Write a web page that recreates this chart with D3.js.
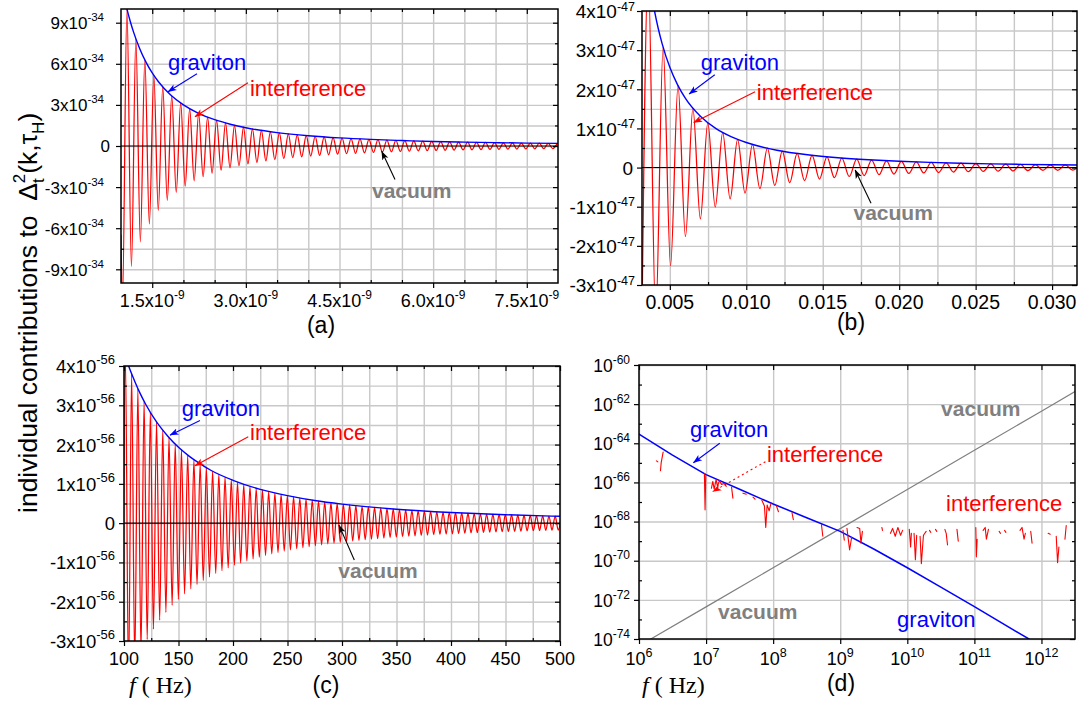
<!DOCTYPE html>
<html><head><meta charset="utf-8">
<script src="https://cdn.jsdelivr.net/npm/d3@7/dist/d3.min.js"></script>
<style>
html,body{margin:0;padding:0;background:#fff;}
svg{display:block;}
text{font-family:"Liberation Sans",Arial,Helvetica,sans-serif;}
</style></head><body>
<svg id="fig" width="1081" height="705" xmlns="http://www.w3.org/2000/svg"></svg>
<script>
// ================= DATA =================
// (a)  x in units of 1e-9, y in units of 1e-34
const aXMajor=[1.5,3.0,4.5,6.0,7.5];
const aXMinor=[2.0,2.5,3.5,4.0,5.0,5.5,6.5,7.0];
const aYMajor=[-9,-6,-3,0,3,6,9];
const aYMinor=[-7.5,-4.5,-1.5,1.5,4.5,7.5];
const aGravX=[1.05,1.1,1.15,1.2,1.3,1.4,1.5,1.6,1.8,2.0,2.25,2.5,2.75,3.0,3.5,4.0,4.5,5.0,5.5,6.0,6.5,7.0,7.5,8.0];
const aGravY=[10.88,9.92,9.07,8.33,7.10,6.12,5.33,4.69,3.70,3.00,2.37,1.92,1.59,1.33,0.98,0.75,0.59,0.48,0.40,0.33,0.28,0.245,0.213,0.188];
const aIntX=[1.0,
1.023,1.095,1.167,1.238,1.310,1.382,1.454,1.526,1.597,1.669,
1.741,1.813,1.885,1.956,2.028,2.100,2.172,2.244,2.315,2.387,
2.459,2.531,2.603,2.674,2.746,2.818,2.890,2.962,3.033,3.105,
3.177,3.249,3.321,3.392,3.464,3.536,3.608,3.680,3.751,3.823,
3.895,3.967,4.039,4.110,4.182,4.254,4.326,4.398,4.469,4.541,
4.613,4.685,4.757,4.828,4.900,4.972,5.044,5.116,5.187,5.259,
5.331,5.403,5.475,5.546,5.618,5.690,5.762,5.834,5.905,5.977,
6.049,6.121,6.193,6.264,6.336,6.408,6.480,6.552,6.623,6.695,
6.767,6.839,6.911,6.982,7.054,7.126,7.198,7.270,7.341,7.413,
7.485,7.557,7.629,7.700,7.772,7.844,7.916,7.988];
const aIntY=[-6.5,
-11.5,10.0,-8.81,7.83,-6.99,6.28,-5.68,5.15,-4.70,4.31,
-3.96,3.65,-3.38,3.14,-2.92,2.72,-2.54,2.38,-2.24,2.11,
-1.98,1.87,-1.77,1.68,-1.59,1.51,-1.44,1.37,-1.30,1.245,
-1.19,1.14,-1.09,1.04,-1.00,0.96,-0.92,0.886,-0.853,0.821,
-0.791,0.763,-0.736,0.710,-0.686,0.663,-0.641,0.620,-0.601,0.582,
-0.564,0.547,-0.530,0.515,-0.500,0.485,-0.472,0.459,-0.446,0.434,
-0.422,0.411,-0.400,0.390,-0.380,0.371,-0.361,0.353,-0.344,0.336,
-0.328,0.320,-0.313,0.306,-0.299,0.292,-0.286,0.280,-0.274,0.268,
-0.262,0.257,-0.251,0.246,-0.241,0.236,-0.232,0.227,-0.223,0.218,
-0.214,0.210,-0.206,0.202,-0.199,0.195,-0.192,0.188];
const aVacX=[1.0,8.0];
const aVacY=[0,0];

// (b)  x in units of 1e-3, y in units of 1e-47
const bXMajor=[5,10,15,20,25,30];
const bXMinor=[7.5,12.5,17.5,22.5,27.5];
const bYMajor=[-3,-2,-1,0,1,2,3,4];
const bYMinor=[-2.5,-1.5,-0.5,0.5,1.5,2.5,3.5];
const bGravX=[3.9,4.0,4.25,4.5,5,5.5,6,7,8,9,10,12,14,16,18,20,22,24,26,28,30,31.7];
const bGravY=[4.21,4.0,3.54,3.16,2.56,2.12,1.78,1.31,1.0,0.79,0.64,0.444,0.327,0.25,0.198,0.16,0.132,0.111,0.095,0.082,0.071,0.064];
const bIntX=[3.100,3.587,4.074,4.561,5.048,5.535,6.022,6.509,6.996,7.483,
7.970,8.457,8.944,9.431,9.918,10.405,10.892,11.379,11.866,12.353,
12.840,13.327,13.814,14.301,14.788,15.275,15.762,16.249,16.736,17.223,
17.710,18.197,18.684,19.171,19.658,20.145,20.632,21.119,21.606,22.093,
22.580,23.067,23.554,24.041,24.528,25.015,25.502,25.989,26.476,26.963,
27.450,27.937,28.424,28.911,29.398,29.885,30.372,30.859,31.346,31.833];
const bIntY=[-6.66,4.97,-3.86,3.08,-2.51,2.09,-1.76,1.51,-1.31,1.14,
-1.01,0.895,-0.80,0.72,-0.65,0.591,-0.539,0.494,-0.455,0.419,
-0.388,0.360,-0.335,0.313,-0.293,0.274,-0.258,0.242,-0.228,0.216,
-0.204,0.193,-0.183,0.174,-0.166,0.158,-0.150,0.143,-0.137,0.131,
-0.126,0.120,-0.115,0.111,-0.106,0.102,-0.098,0.095,-0.091,0.088,
-0.085,0.082,-0.079,0.077,-0.074,0.072,-0.069,0.067,-0.065,0.063];
const bVacX=[3.0,32.0];
const bVacY=[0,0];

// (c)  x in Hz, y in units of 1e-56
const cXMajor=[100,150,200,250,300,350,400,450,500];
const cXMinor=[125,175,225,275,325,375,425,475];
const cYMajor=[-3,-2,-1,0,1,2,3,4];
const cYMinor=[-2.5,-1.5,-0.5,0.5,1.5,2.5,3.5];
const cGravX=[104,106,110,115,120,130,140,150,160,170,180,200,225,250,275,300,350,400,450,500];
const cGravY=[4.02,3.87,3.60,3.29,3.02,2.57,2.22,1.93,1.70,1.51,1.34,1.09,0.86,0.70,0.575,0.483,0.355,0.272,0.215,0.174];
const cIntX=[98.43,
101.29,104.15,107.00,109.86,112.72,115.58,118.43,121.29,124.15,127.00,
129.86,132.72,135.57,138.43,141.29,144.15,147.00,149.86,152.72,155.57,
158.43,161.29,164.14,167.00,169.86,172.72,175.57,178.43,181.29,184.14,
187.00,189.86,192.71,195.57,198.43,201.29,204.14,207.00,209.86,212.71,
215.57,218.43,221.28,224.14,227.00,229.86,232.71,235.57,238.43,241.28,
244.14,247.00,249.85,252.71,255.57,258.43,261.28,264.14,267.00,269.85,
272.71,275.57,278.42,281.28,284.14,287.00,289.85,292.71,295.57,298.42,
301.28,304.14,306.99,309.85,312.71,315.57,318.42,321.28,324.14,326.99,
329.85,332.71,335.56,338.42,341.28,344.14,346.99,349.85,352.71,355.56,
358.42,361.28,364.13,366.99,369.85,372.70,375.56,378.42,381.28,384.13,
386.99,389.85,392.70,395.56,398.42,401.27,404.13,406.99,409.84,412.70,
415.56,418.42,421.27,424.13,426.99,429.84,432.70,435.56,438.41,441.27,
444.13,446.98,449.84,452.70,455.56,458.41,461.27,464.13,466.98,469.84,
472.70,475.55,478.41,481.27,484.12,486.98,489.84,492.69,495.55,498.41,
501.26];
const cIntY=[-4.49,
4.24,-4.01,3.80,-3.60,3.42,-3.26,3.10,-2.96,2.82,-2.70,
2.58,-2.47,2.37,-2.27,2.18,-2.09,2.01,-1.94,1.87,-1.80,
1.73,-1.67,1.61,-1.56,1.51,-1.46,1.41,-1.37,1.32,-1.28,
1.24,-1.21,1.17,-1.14,1.10,-1.07,1.04,-1.015,0.988,-0.961,
0.936,-0.912,0.888,-0.866,0.844,-0.823,0.803,-0.784,0.765,-0.747,
0.730,-0.713,0.697,-0.681,0.666,-0.651,0.637,-0.623,0.610,-0.597,
0.585,-0.573,0.561,-0.550,0.539,-0.528,0.518,-0.508,0.498,-0.488,
0.479,-0.470,0.462,-0.453,0.445,-0.437,0.429,-0.421,0.414,-0.407,
0.400,-0.393,0.386,-0.380,0.373,-0.367,0.361,-0.355,0.350,-0.344,
0.339,-0.333,0.328,-0.323,0.318,-0.313,0.308,-0.304,0.299,-0.295,
0.290,-0.286,0.282,-0.278,0.274,-0.270,0.266,-0.263,0.259,-0.255,
0.252,-0.248,0.245,-0.242,0.239,-0.235,0.232,-0.229,0.226,-0.223,
0.221,-0.218,0.215,-0.212,0.210,-0.207,0.204,-0.202,0.199,-0.197,
0.195,-0.192,0.190,-0.188,0.186,-0.183,0.181,-0.179,0.177,-0.175,
0.173];
const cVacX=[100,500];
const cVacY=[0,0];

// (d)  log-log, x in Hz
const dXMajor=[1e6,1e7,1e8,1e9,1e10,1e11,1e12];
const dYMajor=[1e-74,1e-72,1e-70,1e-68,1e-66,1e-64,1e-62,1e-60];
const dYMinor=[1e-73,1e-71,1e-69,1e-67,1e-65,1e-63,1e-61];
const dGravF=[1e6,3.16e6,1e7,3.16e7,1e8,3.16e8,1e9,3.16e9,1e10,3.16e10,1e11,6.5e11,7.08e11];
const dGravV=[2.95e-64,2.51e-65,2.51e-66,4.47e-67,7.94e-68,1.58e-68,3.16e-69,3.98e-70,4.37e-71,4.47e-72,4.47e-73,1e-74,8.3e-75];
const dVacF=[1.5e6,1e7,1e8,1e9,1e10,1e11,1e12,3.16e12];
const dVacV=[1e-74,4.37e-73,4.37e-71,4.37e-69,4.37e-67,4.37e-65,4.37e-63,4.37e-62];
// interference (|value|, broken where it changes sign)
const dIntF=[1.82e6,1.91e6,null,
2.09e6,2.14e6,2.29e6,null,
9.44e6,9.66e6,9.89e6,null,
1.20e7,1.26e7,1.32e7,1.41e7,1.48e7,1.58e7,1.70e7,1.86e7,2.0e7,null,
2.40e7,2.51e7,null,
3.55e7,3.98e7,null,
5.01e7,5.37e7,null,
6.76e7,7.41e7,7.76e7,8.13e7,8.71e7,9.33e7,null,
1.12e8,1.20e8,null,
1.91e8,2.0e8,null,
5.25e8,5.5e8,null,
1.10e9,1.15e9,null,
1.26e9,1.38e9,1.48e9,null,
1.78e9,1.95e9,2.04e9,2.14e9,null,
4.17e9,4.27e9,null,
5.62e9,6.03e9,6.61e9,7.24e9,7.94e9,8.51e9,null,
1.07e10,1.12e10,1.15e10,null,
1.26e10,1.32e10,1.38e10,null,
1.55e10,1.62e10,1.74e10,1.91e10,null,
2.14e10,2.24e10,null,
2.63e10,2.75e10,null,
3.63e10,3.80e10,3.98e10,null,
5.50e10,5.75e10,null,
1.05e11,1.07e11,1.10e11,null,
1.35e11,1.45e11,1.51e11,1.62e11,null,
2.34e11,2.45e11,null,
2.82e11,2.95e11,null,
4.79e11,5.13e11,5.50e11,5.75e11,null,
6.92e11,7.24e11,null,
1.26e12,1.35e12,null,
1.66e12,1.74e12,1.82e12,null,
2.24e12,2.34e12];
const dIntV=[1.26e-65,1.12e-65,null,
3.98e-66,1.0e-65,3.55e-65,null,
2.82e-66,3.98e-68,2.24e-66,null,
5.01e-67,1.12e-66,4.47e-67,1.41e-66,6.31e-67,1.26e-66,7.94e-67,8.91e-67,6.31e-67,null,
5.62e-67,1.58e-67,null,
2.82e-67,2.51e-67,null,
1.78e-67,1.41e-67,null,
1.26e-67,6.31e-68,5.01e-69,7.08e-68,3.55e-68,8.91e-68,null,
6.31e-68,3.16e-68,null,
2.82e-68,1.26e-68,null,
7.08e-69,1.78e-69,null,
3.55e-69,1.12e-69,null,
4.47e-69,3.55e-70,1.58e-69,null,
5.01e-69,4.47e-69,7.94e-70,3.16e-69,null,
5.01e-69,3.55e-69,null,
2.51e-69,4.47e-69,1.78e-69,5.01e-69,2.0e-69,3.55e-69,null,
3.98e-69,5.01e-70,2.51e-69,null,
2.51e-69,1.12e-70,2.0e-69,null,
1.78e-69,7.08e-71,2.0e-69,3.16e-69,null,
3.55e-69,2.82e-69,null,
3.98e-69,3.16e-69,null,
3.98e-69,2.51e-69,6.31e-70,null,
3.98e-69,1.0e-69,null,
5.01e-69,1.58e-70,1.26e-69,null,
3.55e-69,5.01e-69,1.26e-69,3.98e-69,null,
3.16e-69,2.51e-69,null,
3.55e-69,2.82e-69,null,
3.55e-69,5.01e-69,1.26e-69,2.51e-69,null,
3.16e-69,7.94e-70,null,
2.51e-69,2.24e-69,null,
1.78e-69,7.94e-71,5.01e-70,null,
1.26e-69,6.31e-69];

// ================= DRAWING =================
const svg=d3.select("#fig");
const defs=svg.append("defs");
const BLUE="#0000ff", RED="#ff0000", GRAY="#808080", GRID="#c8c8c8";
function marker(id,color){
  defs.append("marker").attr("id",id).attr("viewBox","0 0 10 10").attr("refX",9.5).attr("refY",5)
    .attr("markerWidth",9).attr("markerHeight",9).attr("markerUnits","userSpaceOnUse").attr("orient","auto")
    .append("path").attr("d","M0,1.3 L10,5 L0,8.7 L2.5,5 Z").attr("fill",color);
}
marker("mBlue",BLUE); marker("mRed",RED); marker("mBlack","#000");

function drawPanel(P){
  const x=P.x, y=P.y, w=P.r-P.l, h=P.b-P.t;
  const g=svg.append("g");
  defs.append("clipPath").attr("id","clip-"+P.id).append("rect")
    .attr("x",P.l).attr("y",P.t).attr("width",w).attr("height",h);
  // grid
  g.append("g").attr("transform",`translate(0,${P.b})`)
    .call(d3.axisBottom(x).tickValues(P.xGrid).tickSize(-h).tickFormat(""))
    .call(s=>{s.select(".domain").remove();s.selectAll("line").attr("stroke",GRID).attr("stroke-width",1.4);});
  g.append("g").attr("transform",`translate(${P.l},0)`)
    .call(d3.axisLeft(y).tickValues(P.yGrid).tickSize(-w).tickFormat(""))
    .call(s=>{s.select(".domain").remove();s.selectAll("line").attr("stroke",GRID).attr("stroke-width",1.4);});
  // curves
  const cg=g.append("g").attr("clip-path",`url(#clip-${P.id})`);
  P.series.forEach(s=>{
    const pts=d3.zip(s.x,s.y);
    const line=d3.line().defined(d=>d[0]!=null&&d[1]!=null).x(d=>x(d[0])).y(d=>y(d[1])).curve(s.curve||d3.curveLinear);
    cg.append("path").attr("d",line(pts)).attr("fill","none").attr("stroke",s.color)
      .attr("stroke-width",s.width).attr("stroke-linejoin","round").attr("stroke-linecap","round");
  });
  // ticks
  const tk=(axis,tr)=>g.append("g").attr("transform",tr).call(axis)
    .call(s=>{s.select(".domain").remove();s.selectAll("line").attr("stroke","#000").attr("stroke-width",1.2);});
  tk(d3.axisBottom(x).tickValues(P.xMajor).tickSize(5).tickFormat(""),`translate(0,${P.b})`);
  tk(d3.axisTop(x).tickValues(P.xMajor).tickSize(-5).tickFormat(""),`translate(0,${P.t})`);
  tk(d3.axisLeft(y).tickValues(P.yMajor).tickSize(5).tickFormat(""),`translate(${P.l},0)`);
  tk(d3.axisRight(y).tickValues(P.yMajor).tickSize(-5).tickFormat(""),`translate(${P.r},0)`);
  if(P.xMinor){
    tk(d3.axisBottom(x).tickValues(P.xMinor).tickSize(-3).tickFormat(""),`translate(0,${P.b})`);
    tk(d3.axisTop(x).tickValues(P.xMinor).tickSize(-3).tickFormat(""),`translate(0,${P.t})`);
  }
  if(P.yMinor){
    tk(d3.axisLeft(y).tickValues(P.yMinor).tickSize(-3).tickFormat(""),`translate(${P.l},0)`);
    tk(d3.axisRight(y).tickValues(P.yMinor).tickSize(-3).tickFormat(""),`translate(${P.r},0)`);
  }
  // frame
  g.append("rect").attr("x",P.l).attr("y",P.t).attr("width",w).attr("height",h)
    .attr("fill","none").attr("stroke","#000").attr("stroke-width",1.5);
  // tick labels
  const fill=(sel,f,sup,supDy)=>sel.each(function(d){
    const p=f(d), t=d3.select(this);
    t.append("tspan").text(p[0]);
    if(p[1]!=null) t.append("tspan").attr("font-size",sup).attr("dy",supDy).text(p[1]);
  });
  g.append("g").selectAll("text").data(P.yMajor).join("text")
    .attr("x",d=>P.l-P.yGap(d)).attr("y",d=>y(d)).attr("dy","0.38em")
    .attr("text-anchor","end").attr("font-size",P.yFs[0]).attr("fill","#000")
    .call(fill,P.yFmt,P.yFs[1],P.ySupDy);
  g.append("g").selectAll("text").data(P.xMajor).join("text")
    .attr("x",d=>x(d)).attr("y",P.b+P.xOff)
    .attr("text-anchor","middle").attr("font-size",P.xFs[0]).attr("fill","#000")
    .call(fill,P.xFmt,P.xFs[1],-Math.round(P.xFs[0]*0.45));
  // annotations
  P.notes.forEach(n=>{
    if(n.kind==="text"){
      g.append("text").attr("x",x(n.x)).attr("y",y(n.y)).attr("fill",n.color)
        .attr("font-size",n.bold?21:22).attr("font-weight",n.bold?"bold":"normal").text(n.text);
    } else {
      g.append("line").attr("x1",x(n.x1)).attr("y1",y(n.y1)).attr("x2",x(n.x2)).attr("y2",y(n.y2))
        .attr("stroke",n.color).attr("stroke-width",1.1).attr("stroke-dasharray",n.dash||null)
        .attr("marker-end",`url(#${n.marker})`);
    }
  });
}

const lin=(d,r)=>d3.scaleLinear().domain(d).range(r);
const T=(x,y,text,color,bold)=>({kind:"text",x,y,text,color,bold});
const A=(x1,y1,x2,y2,color,marker,dash)=>({kind:"arrow",x1,y1,x2,y2,color,marker,dash});

// (a)
drawPanel({id:"a",l:121,r:558,t:9,b:283,
  x:lin([1,8],[121,558]), y:lin([-10,10],[283,9]),
  xMajor:aXMajor, xMinor:aXMinor, yMajor:aYMajor, yMinor:aYMinor,
  xGrid:aXMajor.concat(aXMinor), yGrid:aYMajor.concat(aYMinor),
  yGap:d=>d===0?11:17, xOff:23.5, yFs:[17,11.5], ySupDy:-8, xFs:[18,12],
  yFmt:d=>d===0?["0",null]:[d+"x10","-34"],
  xFmt:d=>[d.toFixed(1)+"x10","-9"],
  series:[
    {x:aIntX,y:aIntY,color:RED,width:1.25,curve:d3.curveMonotoneX},
    {x:aVacX,y:aVacY,color:"#000",width:1.1},
    {x:aGravX,y:aGravY,color:BLUE,width:1.4,curve:d3.curveMonotoneX}],
  notes:[T(1.753,5.53,"graviton",BLUE), A(2.217,5.28,1.753,3.96,BLUE,"mBlue"),
    T(3.066,3.64,"interference",RED), A(3.034,4.62,2.185,2.14,RED,"mRed"),
    T(5.02,-3.77,"vacuum",GRAY,true), A(5.389,-2.45,5.176,-0.39,"#000","mBlack")]
});

// (b)
drawPanel({id:"b",l:642,r:1077,t:11,b:285,
  x:lin([3.18,31.63],[642,1077]), y:lin([-3,4],[285,11]),
  xMajor:bXMajor, xMinor:bXMinor, yMajor:bYMajor, yMinor:bYMinor,
  xGrid:bXMajor.concat(bXMinor), yGrid:bYMajor.concat(bYMinor),
  yGap:d=>d===0?9:7, xOff:24, yFs:[19,12.5], ySupDy:-7.5, xFs:[19.5,13],
  yFmt:d=>d===0?["0",null]:[d+"x10","-47"],
  xFmt:d=>[(d/1000).toFixed(3),null],
  series:[
    {x:bIntX,y:bIntY,color:RED,width:1.25,curve:d3.curveMonotoneX},
    {x:bVacX,y:bVacY,color:"#000",width:1.1},
    {x:bGravX,y:bGravY,color:BLUE,width:1.4,curve:d3.curveMonotoneX}],
  notes:[T(7.02,2.48,"graviton",BLUE), A(7.94,2.37,6.26,1.88,BLUE,"mBlue"),
    T(10.69,1.73,"interference",RED), A(10.58,1.94,6.56,1.15,RED,"mRed"),
    T(17.01,-1.34,"vacuum",GRAY,true), A(18.16,-0.91,17.12,-0.06,"#000","mBlack")]
});

// (c)
drawPanel({id:"c",l:124,r:560,t:366,b:641,
  x:lin([100,500],[124,560]), y:lin([-3,4],[641,366]),
  xMajor:cXMajor, xMinor:cXMinor, yMajor:cYMajor, yMinor:cYMinor,
  xGrid:cXMajor.concat(cXMinor), yGrid:cYMajor.concat(cYMinor),
  yGap:d=>9, xOff:23.5, yFs:[18.5,13], ySupDy:-9, xFs:[18,12],
  yFmt:d=>d===0?["0",null]:[d+"x10","-56"],
  xFmt:d=>[String(d),null],
  series:[
    {x:cIntX,y:cIntY,color:RED,width:1.25,curve:d3.curveMonotoneX},
    {x:cVacX,y:cVacY,color:"#000",width:1.1},
    {x:cGravX,y:cGravY,color:BLUE,width:1.4,curve:d3.curveMonotoneX}],
  notes:[T(152.9,2.74,"graviton",BLUE), A(169.7,2.61,142.2,2.24,BLUE,"mBlue"),
    T(215.6,2.12,"interference",RED), A(214,2.2,165.1,1.46,RED,"mRed"),
    T(296.6,-1.39,"vacuum",GRAY,true), A(311.3,-0.94,297.2,-0.05,"#000","mBlack")]
});

// (d)
drawPanel({id:"d",l:639,r:1075,t:365,b:639,
  x:d3.scaleLog().domain([1e6,Math.pow(10,12.5)]).range([639,1075]),
  y:d3.scaleLog().domain([1e-74,1e-60]).range([639,365]),
  xMajor:dXMajor, xMinor:null, yMajor:dYMajor, yMinor:dYMinor,
  xGrid:dXMajor, yGrid:dYMajor,
  yGap:d=>9, xOff:26, yFs:[17.5,12], ySupDy:-8, xFs:[18,12.5],
  yFmt:d=>["10",String(Math.round(Math.log10(d)))],
  xFmt:d=>["10",String(Math.round(Math.log10(d)))],
  series:[
    {x:dVacF,y:dVacV,color:GRAY,width:1.2},
    {x:dGravF,y:dGravV,color:BLUE,width:1.5},
    {x:dIntF,y:dIntV,color:RED,width:1.1}],
  notes:[T(3.19e10,2.45e-63,"vacuum",GRAY,true), T(1.51e7,1.05e-73,"vacuum",GRAY,true),
    T(5.75e6,2.09e-64,"graviton",BLUE), A(1.60e7,1e-64,6.47e6,1.02e-65,BLUE,"mBlue"),
    T(8.09e7,1.1e-65,"interference",RED), A(7.67e7,1.15e-65,1.26e7,3.4e-67,RED,"mRed","2,3"),
    T(3.78e10,3.47e-68,"interference",RED), T(7.05e9,4.07e-74,"graviton",BLUE)]
});

// panel letters and axis titles
const lab=(x,y,t,size,anchor)=>svg.append("text").attr("x",x).attr("y",y).attr("font-size",size)
  .attr("text-anchor",anchor||"middle").attr("fill","#000").text(t);
lab(321,333,"(a)",23); lab(851,330,"(b)",23); lab(326,693,"(c)",23); lab(841,691,"(d)",23);
function fHz(x0){
  const t=svg.append("text").attr("x",x0).attr("y",693).attr("font-size",24).attr("fill","#000")
    .style("font-family","'Liberation Serif','Times New Roman',serif").style("white-space","pre");
  t.append("tspan").attr("font-style","italic").text("f");
  t.append("tspan").text(" ( Hz)");
}
fHz(129); fHz(642);
const yt=svg.append("text").attr("transform","translate(37,513) rotate(-90)")
  .attr("font-size",26.5).attr("fill","#000").style("white-space","pre");
yt.append("tspan").text("individual contributions to  \u0394");
yt.append("tspan").attr("font-size",17).attr("dy",7).text("t");
yt.append("tspan").attr("font-size",17).attr("dx",-5).attr("dy",-19).text("2");
yt.append("tspan").attr("dy",12).text("(k,\u03C4");
yt.append("tspan").attr("font-size",17).attr("dy",7).text("H");
yt.append("tspan").attr("dy",-7).text(")");
</script></body></html>
